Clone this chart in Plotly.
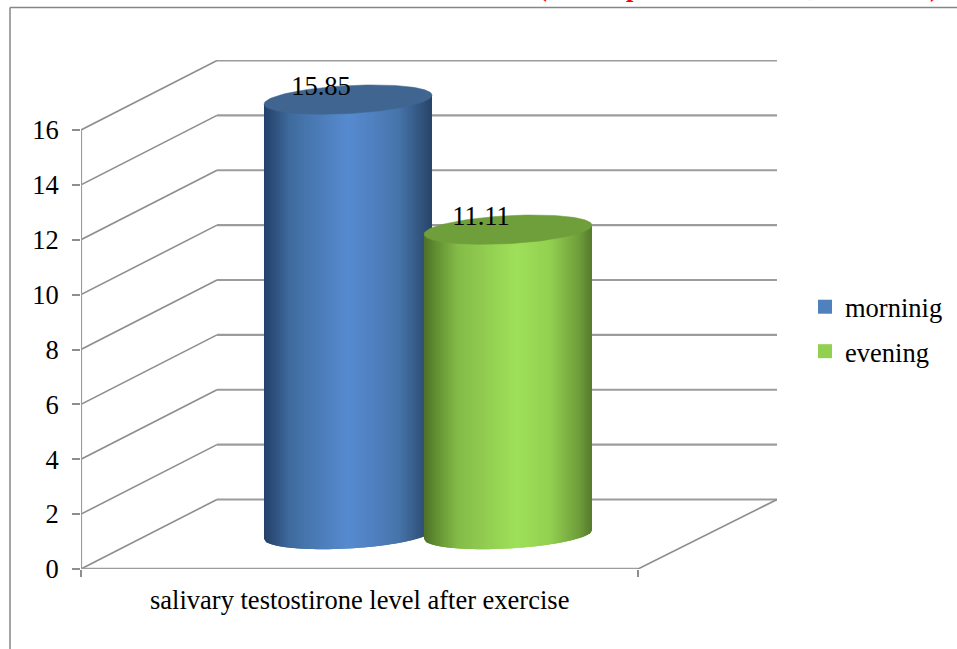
import math
import plotly.graph_objects as go

# --- data ---
series_names = ["morninig", "evening"]
series_values = [15.85, 11.11]
category_label = "salivary testostirone level after exercise"
y_ticks = [0, 2, 4, 6, 8, 10, 12, 14, 16]

# --- styling ---
W, H = 957, 649
L, R, T, B = 81, 777, 60, 569
PX_PER_UNIT = (B - 130) / 16
FONT = "Liberation Serif"
FS = 26.5
GRID = "#8e8e8e"
BACK = "#9c9c9c"
legend_colors = ["#4f81bd", "#92d050"]
top_colors = ["#3f6590", "#6f9f3a"]
body_stops = [
    [(0, "#23406a"), (.05, "#2c4d78"), (.15, "#3e6a9c"), (.3, "#4a7ab4"), (.5, "#568ad0"),
     (.65, "#4f80bf"), (.8, "#4674ab"), (.95, "#2f5078"), (1, "#274468")],
    [(0, "#4e7028"), (.06, "#5e8a30"), (.2, "#84bb48"), (.55, "#9fe05a"), (.75, "#92d050"),
     (.92, "#6f9e3a"), (1, "#567a2c")],
]
centers_x = [267, 427]          # centre of each cylinder, x-axis units
HALF_W = 84
SKEW = 4.5 / PX_PER_UNIT        # tilt of the ellipse, value units
MINOR = 14 / PX_PER_UNIT        # ellipse half-height, value units
BASE = (B - 534.5) / PX_PER_UNIT
DEPTH_X, DEPTH_Y = 136, 69.5 / PX_PER_UNIT
FLOOR_W = 557
BACK_W = R - L


def mix(stops, f):
    for (a, ca), (b, cb) in zip(stops, stops[1:]):
        if f <= b:
            k = (f - a) / (b - a)
            return "#" + "".join(
                f"{round(int(ca[i:i+2], 16) * (1 - k) + int(cb[i:i+2], 16) * k):02x}" for i in (1, 3, 5)
            )
    return stops[-1][1]


fig = go.Figure()


def line(xs, ys, color=GRID, width=1.6):
    fig.add_trace(go.Scatter(x=xs, y=ys, mode="lines", line=dict(color=color, width=width),
                             hoverinfo="skip", showlegend=False, cliponaxis=False))


# walls and floor
for v in y_ticks:
    line([0, DEPTH_X], [v, v + DEPTH_Y])
    line([DEPTH_X, BACK_W], [v + DEPTH_Y, v + DEPTH_Y], BACK, 2.2)
line([0, 0], [0, y_ticks[-1]], BACK, 2.2)
line([0, FLOOR_W], [0, 0], BACK, 2.5)
line([FLOOR_W, BACK_W], [0, DEPTH_Y])

# cylinders: each slice overlaps the next so no seam shows
N = 84
for i, (cx, v) in enumerate(zip(centers_x, series_values)):
    lo = lambda u: BASE + SKEW * u - MINOR * math.sqrt(max(0, 1 - u * u))
    hi = lambda u: BASE + v + SKEW * u
    for k in range(N):
        u0 = -1 + 2 * k / N
        u1 = min(1, -1 + 2 * (k + 2) / N)
        um = (u0 + u1) / 2
        c = mix(body_stops[i], (k + .5) / N)
        fig.add_trace(go.Scatter(
            x=[cx + HALF_W * u for u in (u0, um, u1, u1, u0, u0)],
            y=[lo(u0), lo(um), lo(u1), hi(u1), hi(u0), lo(u0)],
            mode="lines", fill="toself", fillcolor=c, line=dict(width=0),
            hoverinfo="skip", showlegend=False))
    pts = [j * 2 * math.pi / 120 for j in range(121)]
    fig.add_trace(go.Scatter(
        x=[cx + HALF_W * math.cos(t) for t in pts],
        y=[BASE + v + SKEW * math.cos(t) + MINOR * math.sin(t) for t in pts],
        mode="lines", fill="toself", fillcolor=top_colors[i], line=dict(color=top_colors[i], width=0.5),
        hoverinfo="skip", showlegend=False))

# value labels
fig.add_trace(go.Scatter(
    x=[cx - 27 for cx in centers_x],
    y=[BASE + v + 11 / PX_PER_UNIT for v in series_values],
    mode="text", text=[f"{v:.2f}" for v in series_values], textposition="middle center",
    textfont=dict(family=FONT, size=FS, color="black"), hoverinfo="skip", showlegend=False, cliponaxis=False))

# legend entries
for name, col in zip(series_names, legend_colors):
    fig.add_trace(go.Scatter(x=[None], y=[None], mode="markers", name=name, legendgroup=name,
                             marker=dict(symbol="square", size=14, color=col)))

fig.add_annotation(text=category_label, xref="x", yref="paper", x=(149 + 570) / 2 - L, y=0,
                   yanchor="middle", yshift=-31, showarrow=False, font=dict(family=FONT, size=FS, color="black"))
# clipped red heading: only its lowest strokes are on the page
for px, ch in zip([542, 643, 818, 941], ["(", "p", ",", ")"]):
    fig.add_annotation(text=f"<b>{ch}</b>", xref="paper", yref="paper", x=(px - L) / (R - L), y=1,
                       yshift=56, yanchor="bottom", showarrow=False,
                       font=dict(family=FONT, size=FS, color="red"))

fig.update_layout(
    width=W, height=H, autosize=False,
    margin=dict(l=L, r=W - R, t=T, b=H - B, pad=0, autoexpand=False),
    paper_bgcolor="white", plot_bgcolor="white",
    font=dict(family=FONT, size=FS, color="black"),
    xaxis=dict(range=[0, BACK_W], showgrid=False, zeroline=False, showline=False,
               tickmode="array", tickvals=[0, FLOOR_W], ticktext=["", ""],
               ticks="outside", ticklen=7, tickcolor=GRID, tickwidth=1.5, fixedrange=True),
    yaxis=dict(range=[0, (B - T) / PX_PER_UNIT], showgrid=False, zeroline=False, showline=False,
               tickmode="array", tickvals=y_ticks, ticks="outside", ticklen=8, tickcolor=GRID, tickwidth=1.5,
               ticklabelstandoff=8, tickfont=dict(family=FONT, size=FS), fixedrange=True),
    legend=dict(x=(805 - L) / (R - L), y=(B - 283) / (B - T), xanchor="left", yanchor="top",
                font=dict(family=FONT, size=FS), tracegroupgap=7, bgcolor="rgba(0,0,0,0)"),
    shapes=[
        dict(type="line", xref="paper", yref="paper", x0=(10 - L) / (R - L), x1=(W - L) / (R - L),
             y0=(B - 7.5) / (B - T), y1=(B - 7.5) / (B - T), line=dict(color="#868686", width=1.5)),
        dict(type="line", xref="paper", yref="paper", x0=(10 - L) / (R - L), x1=(10 - L) / (R - L),
             y0=(B - 7.5) / (B - T), y1=(B - H) / (B - T), line=dict(color="#868686", width=1.5)),
    ],
)

fig.write_html("out.html", config=dict(displayModeBar=False), post_script="document.body.style.margin='0';")
